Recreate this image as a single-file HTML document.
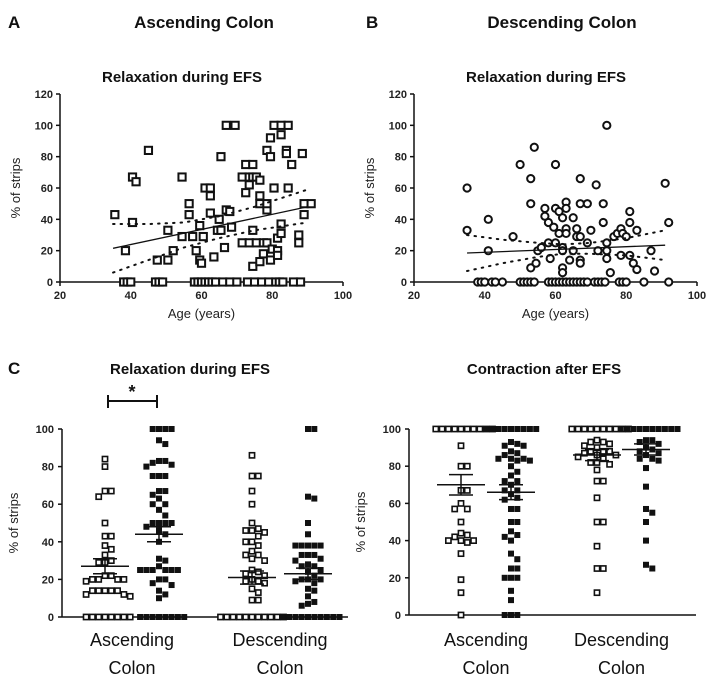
<!DOCTYPE html>
<html><head><meta charset="utf-8">
<style>
body{margin:0;background:#fff;}
svg{display:block;font-family:"Liberation Sans",Arial,sans-serif;}
.tk{font-size:11px;font-weight:bold;fill:#222;}
.al{font-size:13px;fill:#222;}
.ttl{font-size:15px;font-weight:bold;fill:#111;}
.hd{font-size:17px;font-weight:bold;fill:#111;}
.cat{font-size:18px;fill:#111;}
</style></head>
<body>
<svg id="fig" width="708" height="680" viewBox="0 0 708 680">
<text x="8" y="28" class="hd">A</text>
<text x="204" y="28" class="hd" text-anchor="middle">Ascending Colon</text>
<text x="366" y="28" class="hd">B</text>
<text x="562" y="28" class="hd" text-anchor="middle">Descending Colon</text>
<text x="182" y="82" class="ttl" text-anchor="middle">Relaxation during EFS</text>
<text x="546" y="82" class="ttl" text-anchor="middle">Relaxation during EFS</text>
<text x="8" y="374" class="hd">C</text>
<text x="190" y="374" class="ttl" text-anchor="middle">Relaxation during EFS</text>
<text x="544" y="374" class="ttl" text-anchor="middle">Contraction after EFS</text>
</svg>
<script>
// Panel A data (age, % of strips)
const aAge=[35.5,38.5,40.5,40.5,41.5,45,47.5,50.5,50.5,52,54.5,54.5,56.5,56.5,57.5,58.5,59.5,59.5,60,60.5,61,62.5,62.5,62.5,63.5,64.5,65,65.5,65.5,66.5,67,67,68,68.5,69.5,71.5,71.5,72.5,72.5,73.5,73.5,74.5,74.5,74.5,74.5,73.5,75.5,75.5,76.5,76.5,76.5,76.5,77.5,77.5,78.5,78.5,78.5,78.5,79.5,79.5,79.5,80,80.5,80.5,81.5,81.5,81.5,82.5,82.5,82.5,82.5,84,84,84.5,84.5,85.5,87.5,87.5,88.5,89,89,91,
38,39,40,47,48,49,58,59,60,61,62,63,64,66,68,70,73,75,77,79,81,82,83,86,88];
const aVal=[43,20,38,67,64,84,14,14,33,20,67,29,50,43,29,20,36,14,12,29,60,60,55,44,16,33,40,80,33,22,100,46,45,35,100,67,25,57,75,62,67,75,67,10,33,25,25,67,65,55,50,13,25,18,25,46,50,84,92,80,14,21,100,60,28,20,17,100,94,37,31,84,82,60,100,75,25,30,82,43,50,50,
0,0,0,0,0,0,0,0,0,0,0,0,0,0,0,0,0,0,0,0,0,0,0,0,0];
const aFit=[[35,21.5],[90,48]];
const aBandAge=[35,45,55,65,75,90];
const aBandHi=[37,37,38,42,48,59];
const aBandLo=[6,14,22,28,33,38];
// Panel B data
const bAge=[35,35,41,41,48,50,53,53,54,53,54.5,55,56,57,57,58,58.5,58,59.5,60,60,60,61,61,62,62,62,62,62,63,63,63,63,64,65,65,66,66,67,67,67,67,67,69,69,70,71.5,72,73.5,73.5,74.5,74.5,74.5,74.5,75.5,76.5,77.5,78.5,78.5,79,80,81,81,81,82,83,83,87,88,91,92,
38,39,40,42,43,45,50,51,52,53,54,58,59,60,61,62,63,64,65,66,67,68,69,71,72,73,74,78,79,80,85,92];
const bVal=[60,33,40,20,29,75,66,50,86,9,12,20,22,47,42,38,15,25,35,75,47,25,31,45,41,22,9,6,20,51,47,34,31,14,41,20,34,29,66,50,29,14,12,50,25,33,62,20,50,38,100,25,20,15,6,29,31,34,17,31,29,45,38,17,12,33,8,20,7,63,38,
0,0,0,0,0,0,0,0,0,0,0,0,0,0,0,0,0,0,0,0,0,0,0,0,0,0,0,0,0,0,0,0];
const bFit=[[35,18.5],[91,23.5]];
const bBandAge=[35,45,55,62,70,80,91];
const bBandHi=[30,27,25,24,25,28,33];
const bBandLo=[7,12,16,18,18,17,14];
// Panel C groups
const cCats=["Ascending Colon","Descending Colon"];
const cAscOpen=[84,80,67,67,64,50,43,43,38,36,33,30,29,29,22,22,20,20,19,20,20,14,14,14,14,12,11,12,14,0,0,0,0,0,0,0,0];
const cAscFill=[100,100,100,100,94,92,83,82,81,83,80,75,75,75,67,67,65,63,60,60,57,54,50,50,50,50,48,46,44,40,31,30,27,25,25,25,25,25,25,20,20,18,17,14,12,10,0,0,0,0,0,0,0,0];
const cDesOpen=[86,75,75,67,60,50,47,46,46,45,43,40,40,38,35,33,33,31,30,25,24,23,22,20,19,19,18,15,13,9,9,0,0,0,0,0,0,0,0,0,0,0];
const cDesFill=[100,100,64,63,50,44,38,38,38,38,38,33,33,33,31,30,28,27,27,25,24,22,20,20,20,19,18,15,14,11,8,7,6,0,0,0,0,0,0,0,0,0,0];
const cMean=[27,44,21,23];
const cSem=[4,4,3.5,3];
// Panel D groups
const dAscOpen=[100,100,100,100,100,100,100,100,100,100,91,80,80,67,67,60,57,57,50,44,43,42,40,40,39,40,33,19,12,0];
const dAscFill=[100,100,100,100,100,100,100,100,100,93,92,91,91,88,87,86,84,84,84,83,83,80,77,75,72,72,70,67,67,65,63,62,57,57,50,50,45,43,42,40,33,30,25,25,20,20,20,13,8,0,0,0];
const dDesOpen=[100,100,100,100,100,100,100,100,100,100,94,93,93,92,91,90,88,88,88,87,86,86,85,84,82,82,81,78,72,72,63,50,50,37,25,25,12];
const dDesFill=[100,100,100,100,100,100,100,100,100,100,94,94,93,92,90,89,88,87,86,84,84,83,79,69,57,55,50,40,27,25];
const dMean=[70,66,86,89];
const dSem=[5.5,4,3,3];

const NS="http://www.w3.org/2000/svg";
const svg=document.getElementById('fig');
function mk(tag,attrs,parent){const e=document.createElementNS(NS,tag);for(const k in attrs)e.setAttribute(k,attrs[k]);(parent||svg).appendChild(e);return e;}

function scatterPanel(id,x0,x1,y0,y1,ages,vals,fit,bAges,bHi,bLo,circle){
  const g=mk('g',{});
  
  
  const sx=a=>x0+(a-20)/80*(x1-x0);
  const sy=v=>y0-(v/120)*(y0-y1);
  mk('line',{x1:x0,y1:y0,x2:x0,y2:y1,stroke:'#111','stroke-width':1.5},g);
  mk('line',{x1:x0,y1:y0,x2:x1,y2:y0,stroke:'#111','stroke-width':1.5},g);
  for(let v=0;v<=120;v+=20){
    mk('line',{x1:x0-4,y1:sy(v),x2:x0,y2:sy(v),stroke:'#111','stroke-width':1.5},g);
    const t=mk('text',{x:x0-7,y:sy(v)+4,'text-anchor':'end',class:'tk'},g);t.textContent=v;
    
    
  }
  for(let a=20;a<=100;a+=20){
    mk('line',{x1:sx(a),y1:y0,x2:sx(a),y2:y0+4,stroke:'#111','stroke-width':1.5},g);
    const t=mk('text',{x:sx(a),y:y0+17,'text-anchor':'middle',class:'tk'},g);t.textContent=a;
    
    
  }
  const yl=mk('text',{x:0,y:0,transform:`translate(${x0-40},${(y0+y1)/2}) rotate(-90)`,'text-anchor':'middle',class:'al'},g);yl.textContent='% of strips';
  
  
  const xl=mk('text',{x:(x0+x1)/2,y:y0+36,'text-anchor':'middle',class:'al',fill:'#444'},g);xl.textContent='Age (years)';
  
  
  for(let i=0;i<ages.length;i++){
    const cx=sx(ages[i]),cy=sy(vals[i]);
    let m;
    if(circle)m=mk('circle',{cx:cx,cy:cy,r:3.6,fill:'#fff',stroke:'#111','stroke-width':2},g);
    else m=mk('rect',{x:cx-3.6,y:cy-3.6,width:7.2,height:7.2,fill:'#fff',stroke:'#111','stroke-width':2},g);
    
    
  }
  const fl=mk('line',{x1:sx(fit[0][0]),y1:sy(fit[0][1]),x2:sx(fit[1][0]),y2:sy(fit[1][1]),stroke:'#111','stroke-width':1.3},g);
  
  
  [bHi,bLo].forEach(b=>{
    const p=mk('polyline',{points:bAges.map((a,i)=>sx(a)+','+sy(b[i])).join(' '),fill:'none',stroke:'#111','stroke-width':2,'stroke-dasharray':'1.5 6','stroke-linecap':'round'},g);
    
    
  });
}
scatterPanel('panel-a',60,343,282,94,aAge,aVal,aFit,aBandAge,aBandHi,aBandLo,false);
scatterPanel('panel-b',414,697,282,94,bAge,bVal,bFit,bBandAge,bBandHi,bBandLo,true);

function swarm(g,vals,cx,sy,filled,s){
  const placed=[];
  const sorted=vals.slice().sort((a,b)=>b-a);
  sorted.forEach(v=>{
    const y=sy(v);
    let k=0,x;
    while(true){
      const off=(k===0?0:(k%2?1:-1)*Math.ceil(k/2)*s);
      x=cx+off;
      if(!placed.some(p=>Math.abs(p[0]-x)<s-0.1&&Math.abs(p[1]-y)<s-0.1))break;
      k++;
    }
    placed.push([x,y]);
    const r=mk('rect',filled?{x:x-3,y:y-3,width:6,height:6,fill:'#111'}:{x:x-2.6,y:y-2.6,width:5.2,height:5.2,fill:'#fff',stroke:'#111','stroke-width':1.6},g);
    
    
  });
}
function dotPanel(id,x0,x1,y0,y1,cols,groups,means,sems){
  const g=mk('g',{});
  
  
  const sy=v=>y0-(v/100)*(y0-y1);
  mk('line',{x1:x0,y1:y0,x2:x0,y2:y1,stroke:'#111','stroke-width':1.5},g);
  mk('line',{x1:x0,y1:y0,x2:x1,y2:y0,stroke:'#111','stroke-width':1.5},g);
  for(let v=0;v<=100;v+=20){
    mk('line',{x1:x0-4,y1:sy(v),x2:x0,y2:sy(v),stroke:'#111','stroke-width':1.5},g);
    const t=mk('text',{x:x0-8,y:sy(v)+4,'text-anchor':'end',class:'tk'},g);t.textContent=v;
    
    
  }
  const yl=mk('text',{x:0,y:0,transform:`translate(${x0-44},${(y0+y1)/2}) rotate(-90)`,'text-anchor':'middle',class:'al'},g);yl.textContent='% of strips';
  
  
  groups.forEach((vals,i)=>{
    swarm(g,vals,cols[i],sy,i%2===1,6.3);
    const m=mk('line',{x1:cols[i]-24,y1:sy(means[i]),x2:cols[i]+24,y2:sy(means[i]),stroke:'#111','stroke-width':1.5},g);
    
    
    [means[i]+sems[i],means[i]-sems[i]].forEach(v=>mk('line',{x1:cols[i]-12,y1:sy(v),x2:cols[i]+12,y2:sy(v),stroke:'#111','stroke-width':1.5},g));
    mk('line',{x1:cols[i],y1:sy(means[i]+sems[i]),x2:cols[i],y2:sy(means[i]-sems[i]),stroke:'#111','stroke-width':1.5},g);
  });
  cCats.forEach((c,j)=>{
    const cx=(cols[2*j]+cols[2*j+1])/2;
    const words=c.split(' ');
    words.forEach((w,k)=>{
      const t=mk('text',{x:cx,y:646+k*28,'text-anchor':'middle',class:'cat'},g);t.textContent=w;
      
      
    });
  });
}
dotPanel('panel-c',62,348,617,429,[105,159,252,308],[cAscOpen,cAscFill,cDesOpen,cDesFill],cMean,cSem);
dotPanel('panel-d',409,696,615,429,[461,511,597,646],[dAscOpen,dAscFill,dDesOpen,dDesFill],dMean,dSem);
// significance bracket
const sb=mk('path',{d:'M108 395 V408 M108 401 H157 M157 395 V408',stroke:'#111','stroke-width':2,fill:'none'});


const st=mk('text',{x:132,y:398,'text-anchor':'middle','font-size':'18px','font-weight':'bold',fill:'#111'});st.textContent='*';


</script>
</body></html>
